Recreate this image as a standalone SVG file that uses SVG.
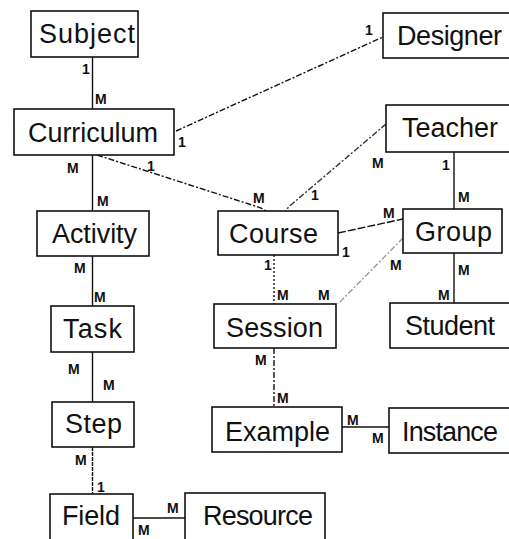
<svg xmlns="http://www.w3.org/2000/svg" width="509" height="539" viewBox="0 0 509 539">
<style>
.box{fill:#fff;stroke:#111;stroke-width:1.6}
.t{font-family:"Liberation Sans",Arial,sans-serif;font-size:27px;fill:#111}
.l{font-family:"Liberation Sans",Arial,sans-serif;font-size:14px;font-weight:bold;fill:#111}
.c{fill:none;stroke:#111;stroke-width:1.4}
.dash{stroke-dasharray:6 2 2 2}
.dot{stroke-dasharray:2 2}
.gray{stroke:#999}
</style>
<rect width="509" height="539" fill="#fff"/>
<g id="connectors">
<line class="c" x1="92.5" y1="57" x2="92.5" y2="109"/>
<line class="c dash" x1="176" y1="131" x2="383" y2="37"/>
<line class="c" x1="92.5" y1="155" x2="92.5" y2="211"/>
<path class="c dash" d="M97,155 L255,206 Q262,208 266,211"/>
<path class="c dash" d="M386,124 L292,204 Q287,208 286,211" style="stroke:#333"/>
<line class="c" x1="338" y1="233" x2="403" y2="219" style="stroke-dasharray:8 2"/>
<line class="c" x1="454" y1="152" x2="454" y2="209"/>
<line class="c" x1="454" y1="253" x2="454" y2="303"/>
<line class="c dash gray" x1="403" y1="238" x2="338" y2="304"/>
<line class="c dot" x1="274" y1="255" x2="274" y2="304"/>
<line class="c dash" x1="274" y1="348" x2="274" y2="407"/>
<line class="c" x1="92.5" y1="256" x2="92.5" y2="306"/>
<line class="c" x1="92.5" y1="352" x2="92.5" y2="402"/>
<line class="c" x1="92.5" y1="447" x2="92.5" y2="494" style="stroke-dasharray:4 1"/>
<line class="c" x1="133" y1="518" x2="185" y2="518"/>
<line class="c" x1="342" y1="427" x2="389" y2="427"/>
</g>
<g id="labels">
<text class="l" x="82" y="74">1</text>
<text class="l" x="95" y="104">M</text>
<text class="l" x="178" y="147">1</text>
<text class="l" x="365" y="35">1</text>
<text class="l" x="67" y="173">M</text>
<text class="l" x="97" y="206">M</text>
<text class="l" x="147" y="171">1</text>
<text class="l" x="253" y="203">M</text>
<text class="l" x="372" y="168">M</text>
<text class="l" x="311" y="200">1</text>
<text class="l" x="442" y="170">1</text>
<text class="l" x="458" y="202">M</text>
<text class="l" x="383" y="218">M</text>
<text class="l" x="342" y="257">1</text>
<text class="l" x="390" y="270">M</text>
<text class="l" x="318" y="300">M</text>
<text class="l" x="264" y="270">1</text>
<text class="l" x="277" y="300">M</text>
<text class="l" x="458" y="275">M</text>
<text class="l" x="438" y="300">M</text>
<text class="l" x="74" y="273">M</text>
<text class="l" x="94" y="302">M</text>
<text class="l" x="68" y="374">M</text>
<text class="l" x="103" y="390">M</text>
<text class="l" x="75" y="465">M</text>
<text class="l" x="97" y="492">1</text>
<text class="l" x="167" y="513">M</text>
<text class="l" x="138" y="535">M</text>
<text class="l" x="255" y="365">M</text>
<text class="l" x="277" y="403">M</text>
<text class="l" x="347" y="425">M</text>
<text class="l" x="372" y="443">M</text>
</g>
<g id="subject"><rect class="box" x="31" y="11" width="107" height="46"/><text class="t" x="39" y="43" textLength="96">Subject</text></g>
<g id="designer"><rect class="box" x="383" y="13" width="130" height="45"/><text class="t" x="397" y="45" textLength="105">Designer</text></g>
<g id="curriculum"><rect class="box" x="14" y="109" width="160" height="46"/><text class="t" x="28" y="142" textLength="130">Curriculum</text></g>
<g id="teacher"><rect class="box" x="386" y="105" width="130" height="47"/><text class="t" x="402" y="137" textLength="96">Teacher</text></g>
<g id="activity"><rect class="box" x="37" y="211" width="112" height="45"/><text class="t" x="52" y="243" textLength="85">Activity</text></g>
<g id="course"><rect class="box" x="218" y="211" width="120" height="44"/><text class="t" x="229" y="243" textLength="89">Course</text></g>
<g id="group"><rect class="box" x="403" y="209" width="99" height="44"/><text class="t" x="415" y="241" textLength="77">Group</text></g>
<g id="task"><rect class="box" x="51" y="306" width="83" height="46"/><text class="t" x="63" y="338" textLength="59">Task</text></g>
<g id="session"><rect class="box" x="214" y="304" width="122" height="44"/><text class="t" x="226" y="337" textLength="97">Session</text></g>
<g id="student"><rect class="box" x="390" y="303" width="125" height="45"/><text class="t" x="405" y="335" textLength="90">Student</text></g>
<g id="step"><rect class="box" x="52" y="402" width="82" height="45"/><text class="t" x="65" y="433" textLength="57">Step</text></g>
<g id="example"><rect class="box" x="212" y="407" width="130" height="45"/><text class="t" x="225" y="441" textLength="105">Example</text></g>
<g id="instance"><rect class="box" x="389" y="408" width="126" height="45"/><text class="t" x="402" y="441" textLength="96">Instance</text></g>
<g id="field"><rect class="box" x="50" y="494" width="83" height="55"/><text class="t" x="62" y="525" textLength="58">Field</text></g>
<g id="resource"><rect class="box" x="185" y="493" width="140" height="56"/><text class="t" x="203" y="525" textLength="110">Resource</text></g>
</svg>
